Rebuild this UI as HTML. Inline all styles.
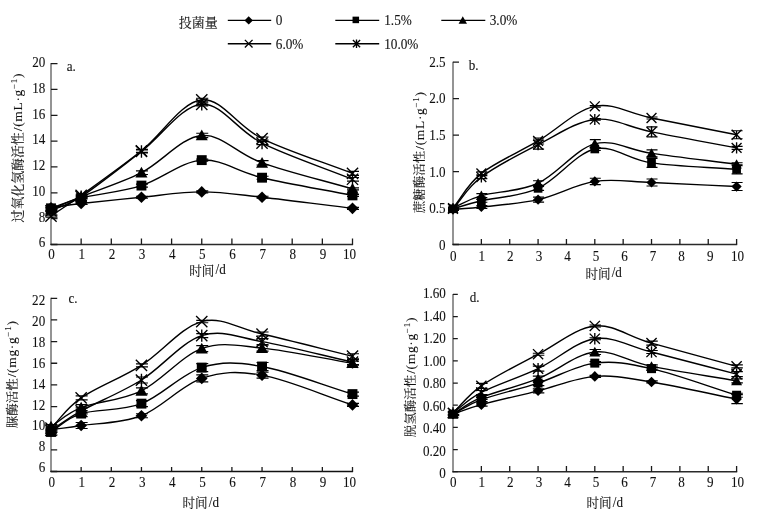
<!DOCTYPE html>
<html lang="zh"><head><meta charset="utf-8"><title>Figure</title>
<style>
html,body{margin:0;padding:0;background:#fff;}
body{width:762px;height:514px;overflow:hidden;font-family:"Liberation Serif","Noto Serif CJK SC",serif;}
svg{display:block;will-change:transform;transform:translateZ(0);}
svg text{font-family:"Liberation Serif","Noto Serif CJK SC",serif;fill:#111;stroke:#111;stroke-width:0.1px;}
</style></head><body>
<svg width="762" height="514" viewBox="0 0 762 514">
<rect width="762" height="514" fill="#fff"/>
<text x="178.80" y="27.30" font-size="13" text-anchor="start">投菌量</text>
<path d="M227.8,20.4H271.2" stroke="#000" stroke-width="1.4"/>
<path d="M248.70,16.20L252.90,20.40L248.70,24.60L244.50,20.40Z" fill="#000"/>
<text transform="translate(275.80,25.30) scale(0.96,1)" text-anchor="start" font-size="13.8">0</text>
<path d="M335.3,20.4H379.2" stroke="#000" stroke-width="1.4"/>
<rect x="352.54" y="16.64" width="6.53" height="6.53" fill="#000"/>
<text transform="translate(384.20,25.30) scale(0.96,1)" text-anchor="start" font-size="13.8">1.5%</text>
<path d="M441.3,20.4H485.3" stroke="#000" stroke-width="1.4"/>
<path d="M462.80,16.32L467.02,23.80L458.58,23.80Z" fill="#000"/>
<text transform="translate(489.70,25.30) scale(0.96,1)" text-anchor="start" font-size="13.8">3.0%</text>
<path d="M227.8,43.7H271.2" stroke="#000" stroke-width="1.4"/>
<path d="M244.87,39.87L252.53,47.53M244.87,47.53L252.53,39.87" stroke="#000" stroke-width="1.35" fill="none"/>
<text transform="translate(275.80,48.60) scale(0.96,1)" text-anchor="start" font-size="13.8">6.0%</text>
<path d="M335.3,43.7H379.2" stroke="#000" stroke-width="1.4"/>
<path d="M352.90,40.10L360.10,47.30M352.90,47.30L360.10,40.10M356.50,39.50L356.50,47.90" stroke="#000" stroke-width="1.35" fill="none"/>
<text transform="translate(384.20,48.60) scale(0.96,1)" text-anchor="start" font-size="13.8">10.0%</text>
<g id="panel-a"><path d="M51.00,63.10V245.10" stroke="#707070" stroke-width="1.5" fill="none"/>
<path d="M50.30,244.50H353.10" stroke="#2a2a2a" stroke-width="1.4" fill="none"/>
<path d="M51.00,244.50h6.5M51.00,218.66h6.5M51.00,192.81h6.5M51.00,166.97h6.5M51.00,141.13h6.5M51.00,115.29h6.5M51.00,89.44h6.5M51.00,63.60h6.5M81.15,244.50v-6M111.30,244.50v-6M141.45,244.50v-6M171.60,244.50v-6M201.75,244.50v-6M231.90,244.50v-6M262.05,244.50v-6M292.20,244.50v-6M322.35,244.50v-6M352.50,244.50v-6" stroke="#1a1a1a" stroke-width="1.3" fill="none"/>
<text transform="translate(45.30,247.30) scale(0.95,1)" text-anchor="end" font-size="13.8">6</text>
<text transform="translate(45.30,221.54) scale(0.95,1)" text-anchor="end" font-size="13.8">8</text>
<text transform="translate(45.30,195.79) scale(0.95,1)" text-anchor="end" font-size="13.8">10</text>
<text transform="translate(45.30,170.03) scale(0.95,1)" text-anchor="end" font-size="13.8">12</text>
<text transform="translate(45.30,144.27) scale(0.95,1)" text-anchor="end" font-size="13.8">14</text>
<text transform="translate(45.30,118.51) scale(0.95,1)" text-anchor="end" font-size="13.8">16</text>
<text transform="translate(45.30,92.76) scale(0.95,1)" text-anchor="end" font-size="13.8">18</text>
<text transform="translate(45.30,67.00) scale(0.95,1)" text-anchor="end" font-size="13.8">20</text>
<text transform="translate(51.60,259.40) scale(0.95,1)" text-anchor="middle" font-size="13.8">0</text>
<text transform="translate(81.75,259.40) scale(0.95,1)" text-anchor="middle" font-size="13.8">1</text>
<text transform="translate(111.90,259.40) scale(0.95,1)" text-anchor="middle" font-size="13.8">2</text>
<text transform="translate(142.05,259.40) scale(0.95,1)" text-anchor="middle" font-size="13.8">3</text>
<text transform="translate(172.20,259.40) scale(0.95,1)" text-anchor="middle" font-size="13.8">4</text>
<text transform="translate(202.35,259.40) scale(0.95,1)" text-anchor="middle" font-size="13.8">5</text>
<text transform="translate(232.50,259.40) scale(0.95,1)" text-anchor="middle" font-size="13.8">6</text>
<text transform="translate(262.65,259.40) scale(0.95,1)" text-anchor="middle" font-size="13.8">7</text>
<text transform="translate(292.80,259.40) scale(0.95,1)" text-anchor="middle" font-size="13.8">8</text>
<text transform="translate(322.95,259.40) scale(0.95,1)" text-anchor="middle" font-size="13.8">9</text>
<text transform="translate(349.60,259.40) scale(0.95,1)" text-anchor="middle" font-size="13.8">10</text>
<text transform="translate(66.80,71.30) scale(0.95,1)" text-anchor="start" font-size="13.8">a.</text>
<text x="189.20" y="274.50" font-size="12.6" text-anchor="start">时间</text>
<text transform="translate(215.50,274.20) scale(0.95,1)" text-anchor="start" font-size="13.8">/d</text>
<g transform="translate(22.0,222.5) rotate(-90)"><text x="0" y="0" font-size="12.9" text-anchor="start">过氧化氢酶活性</text><text transform="translate(91.30,-0.2) scale(1,0.92)" font-size="13.5" letter-spacing="0.65">/(mL·g<tspan dy="-5.6" font-size="9.2">−1</tspan><tspan dy="5.6">)</tspan></text></g>
<path d="M51.00,207.80C61.05,206.38 66.08,205.31 81.15,203.54C96.23,201.77 121.35,199.15 141.45,197.21C161.55,195.27 181.65,191.91 201.75,191.91C221.85,191.91 236.93,194.47 262.05,197.21C287.18,199.94 322.35,204.62 352.50,208.32" stroke="#000" stroke-width="1.4" fill="none" stroke-linejoin="round"/>
<path d="M51.00,208.32C61.05,204.87 66.08,201.77 81.15,197.98C96.23,194.19 121.35,191.89 141.45,185.58C161.55,179.27 181.65,161.44 201.75,160.12C221.85,158.81 236.93,171.82 262.05,177.70C287.18,183.58 322.35,189.50 352.50,195.40" stroke="#000" stroke-width="1.4" fill="none" stroke-linejoin="round"/>
<path d="M51.00,209.61C61.05,205.31 66.08,202.85 81.15,196.69C96.23,190.53 121.35,182.86 141.45,172.66C161.55,162.45 181.65,137.08 201.75,135.44C221.85,133.81 236.93,153.92 262.05,162.84C287.18,171.75 322.35,180.24 352.50,188.94" stroke="#000" stroke-width="1.4" fill="none" stroke-linejoin="round"/>
<path d="M51.00,216.07C66.08,205.74 66.33,206.09 81.15,195.40C96.23,184.52 121.35,166.76 141.45,150.82C161.55,134.88 181.65,101.83 201.75,99.78C221.85,97.73 236.93,126.27 262.05,138.54C287.18,150.82 322.35,161.80 352.50,173.43" stroke="#000" stroke-width="1.4" fill="none" stroke-linejoin="round"/>
<path d="M51.00,210.90C66.08,203.80 67.22,205.84 81.15,196.69C96.23,186.78 121.35,166.86 141.45,151.47C161.55,136.07 181.65,105.70 201.75,104.30C221.85,102.90 236.93,130.58 262.05,143.07C287.18,155.56 322.35,167.19 352.50,179.25" stroke="#000" stroke-width="1.4" fill="none" stroke-linejoin="round"/>
<path d="M51.00,206.80V208.80M45.50,206.80h12.0M45.50,208.80h12.0M81.15,202.54V204.54M75.65,202.54h12.0M75.65,204.54h12.0M141.45,196.21V198.21M135.95,196.21h12.0M135.95,198.21h12.0M201.75,190.91V192.91M196.25,190.91h12.0M196.25,192.91h12.0M262.05,196.21V198.21M256.55,196.21h12.0M256.55,198.21h12.0M352.50,207.32V209.32M347.00,207.32h12.0M347.00,209.32h12.0M51.00,207.32V209.32M45.50,207.32h12.0M45.50,209.32h12.0M81.15,196.98V198.98M75.65,196.98h12.0M75.65,198.98h12.0M141.45,184.08V187.08M135.95,184.08h12.0M135.95,187.08h12.0M201.75,159.12V161.12M196.25,159.12h12.0M196.25,161.12h12.0M262.05,176.20V179.20M256.55,176.20h12.0M256.55,179.20h12.0M352.50,194.40V196.40M347.00,194.40h12.0M347.00,196.40h12.0M51.00,208.61V210.61M45.50,208.61h12.0M45.50,210.61h12.0M81.15,195.69V197.69M75.65,195.69h12.0M75.65,197.69h12.0M141.45,170.86V174.46M135.95,170.86h12.0M135.95,174.46h12.0M201.75,133.24V137.64M196.25,133.24h12.0M196.25,137.64h12.0M262.05,160.64V165.04M256.55,160.64h12.0M256.55,165.04h12.0M352.50,187.94V189.94M347.00,187.94h12.0M347.00,189.94h12.0M51.00,215.07V217.07M45.50,215.07h12.0M45.50,217.07h12.0M81.15,194.20V196.60M75.65,194.20h12.0M75.65,196.60h12.0M141.45,149.32V152.32M135.95,149.32h12.0M135.95,152.32h12.0M201.75,98.28V101.28M196.25,98.28h12.0M196.25,101.28h12.0M262.05,137.04V140.04M256.55,137.04h12.0M256.55,140.04h12.0M352.50,171.43V175.43M347.00,171.43h12.0M347.00,175.43h12.0M51.00,209.90V211.90M45.50,209.90h12.0M45.50,211.90h12.0M81.15,195.49V197.89M75.65,195.49h12.0M75.65,197.89h12.0M141.45,149.97V152.97M135.95,149.97h12.0M135.95,152.97h12.0M201.75,102.80V105.80M196.25,102.80h12.0M196.25,105.80h12.0M262.05,141.57V144.57M256.55,141.57h12.0M256.55,144.57h12.0M352.50,177.45V181.05M347.00,177.45h12.0M347.00,181.05h12.0" stroke="#000" stroke-width="1.15" fill="none"/>
<path d="M51.00,201.98L56.82,207.80L51.00,213.62L45.18,207.80Z" fill="#000"/>
<path d="M81.15,197.72L86.97,203.54L81.15,209.36L75.33,203.54Z" fill="#000"/>
<path d="M141.45,191.39L147.27,197.21L141.45,203.03L135.63,197.21Z" fill="#000"/>
<path d="M201.75,186.09L207.57,191.91L201.75,197.73L195.93,191.91Z" fill="#000"/>
<path d="M262.05,191.39L267.87,197.21L262.05,203.03L256.23,197.21Z" fill="#000"/>
<path d="M352.50,202.50L358.32,208.32L352.50,214.14L346.68,208.32Z" fill="#000"/>
<rect x="46.05" y="203.37" width="9.89" height="9.89" fill="#000"/>
<rect x="76.20" y="193.04" width="9.89" height="9.89" fill="#000"/>
<rect x="136.50" y="180.63" width="9.89" height="9.89" fill="#000"/>
<rect x="196.80" y="155.18" width="9.89" height="9.89" fill="#000"/>
<rect x="257.10" y="172.75" width="9.89" height="9.89" fill="#000"/>
<rect x="347.55" y="190.45" width="9.89" height="9.89" fill="#000"/>
<path d="M51.00,203.79L57.01,214.46L44.99,214.46Z" fill="#000"/>
<path d="M81.15,190.87L87.16,201.54L75.14,201.54Z" fill="#000"/>
<path d="M141.45,166.84L147.46,177.51L135.44,177.51Z" fill="#000"/>
<path d="M201.75,129.62L207.76,140.29L195.74,140.29Z" fill="#000"/>
<path d="M262.05,157.02L268.06,167.69L256.04,167.69Z" fill="#000"/>
<path d="M352.50,183.12L358.51,193.79L346.49,193.79Z" fill="#000"/>
<path d="M45.37,210.45L56.63,221.70M45.37,221.70L56.63,210.45" stroke="#000" stroke-width="1.35" fill="none"/>
<path d="M75.52,189.77L86.78,201.02M75.52,201.02L86.78,189.77" stroke="#000" stroke-width="1.35" fill="none"/>
<path d="M135.82,145.19L147.08,156.45M135.82,156.45L147.08,145.19" stroke="#000" stroke-width="1.35" fill="none"/>
<path d="M196.12,94.15L207.38,105.41M196.12,105.41L207.38,94.15" stroke="#000" stroke-width="1.35" fill="none"/>
<path d="M256.42,132.92L267.68,144.17M256.42,144.17L267.68,132.92" stroke="#000" stroke-width="1.35" fill="none"/>
<path d="M346.87,167.81L358.13,179.06M346.87,179.06L358.13,167.81" stroke="#000" stroke-width="1.35" fill="none"/>
<path d="M45.37,205.28L56.63,216.53M45.37,216.53L56.63,205.28M51.00,204.68L51.00,217.13" stroke="#000" stroke-width="1.35" fill="none"/>
<path d="M75.52,191.06L86.78,202.32M75.52,202.32L86.78,191.06M81.15,190.46L81.15,202.92" stroke="#000" stroke-width="1.35" fill="none"/>
<path d="M135.82,145.84L147.08,157.09M135.82,157.09L147.08,145.84M141.45,145.24L141.45,157.69" stroke="#000" stroke-width="1.35" fill="none"/>
<path d="M196.12,98.68L207.38,109.93M196.12,109.93L207.38,98.68M201.75,98.08L201.75,110.53" stroke="#000" stroke-width="1.35" fill="none"/>
<path d="M256.42,137.44L267.68,148.69M256.42,148.69L267.68,137.44M262.05,136.84L262.05,149.29" stroke="#000" stroke-width="1.35" fill="none"/>
<path d="M346.87,173.62L358.13,184.87M346.87,184.87L358.13,173.62M352.50,173.02L352.50,185.47" stroke="#000" stroke-width="1.35" fill="none"/></g>
<g id="panel-b"><path d="M453.00,61.70V245.10" stroke="#707070" stroke-width="1.5" fill="none"/>
<path d="M452.30,244.50H737.20" stroke="#2a2a2a" stroke-width="1.4" fill="none"/>
<path d="M453.00,244.50h6M453.00,208.04h6M453.00,171.58h6M453.00,135.12h6M453.00,98.66h6M453.00,62.20h6M481.36,244.50v-5.6M509.72,244.50v-5.6M538.08,244.50v-5.6M566.44,244.50v-5.6M594.80,244.50v-5.6M623.16,244.50v-5.6M651.52,244.50v-5.6M679.88,244.50v-5.6M708.24,244.50v-5.6M736.60,244.50v-5.6" stroke="#1a1a1a" stroke-width="1.3" fill="none"/>
<text transform="translate(445.60,249.60) scale(0.95,1)" text-anchor="end" font-size="13.8">0</text>
<text transform="translate(445.60,213.06) scale(0.95,1)" text-anchor="end" font-size="13.8">0.5</text>
<text transform="translate(445.60,176.52) scale(0.95,1)" text-anchor="end" font-size="13.8">1.0</text>
<text transform="translate(445.60,139.98) scale(0.95,1)" text-anchor="end" font-size="13.8">1.5</text>
<text transform="translate(445.60,103.44) scale(0.95,1)" text-anchor="end" font-size="13.8">2.0</text>
<text transform="translate(445.60,66.90) scale(0.95,1)" text-anchor="end" font-size="13.8">2.5</text>
<text transform="translate(453.30,260.60) scale(0.95,1)" text-anchor="middle" font-size="13.8">0</text>
<text transform="translate(481.84,260.60) scale(0.95,1)" text-anchor="middle" font-size="13.8">1</text>
<text transform="translate(510.38,260.60) scale(0.95,1)" text-anchor="middle" font-size="13.8">2</text>
<text transform="translate(538.92,260.60) scale(0.95,1)" text-anchor="middle" font-size="13.8">3</text>
<text transform="translate(567.46,260.60) scale(0.95,1)" text-anchor="middle" font-size="13.8">4</text>
<text transform="translate(596.00,260.60) scale(0.95,1)" text-anchor="middle" font-size="13.8">5</text>
<text transform="translate(624.54,260.60) scale(0.95,1)" text-anchor="middle" font-size="13.8">6</text>
<text transform="translate(653.08,260.60) scale(0.95,1)" text-anchor="middle" font-size="13.8">7</text>
<text transform="translate(681.62,260.60) scale(0.95,1)" text-anchor="middle" font-size="13.8">8</text>
<text transform="translate(710.16,260.60) scale(0.95,1)" text-anchor="middle" font-size="13.8">9</text>
<text transform="translate(737.50,260.60) scale(0.95,1)" text-anchor="middle" font-size="13.8">10</text>
<text transform="translate(468.80,70.40) scale(0.95,1)" text-anchor="start" font-size="13.8">b.</text>
<text x="585.40" y="277.70" font-size="12.6" text-anchor="start">时间</text>
<text transform="translate(611.70,277.40) scale(0.95,1)" text-anchor="start" font-size="13.8">/d</text>
<g transform="translate(423.9,213.2) rotate(-90)"><text x="0" y="0" font-size="12.5" text-anchor="start">蔗糖酶活性</text><text transform="translate(63.50,-0.2) scale(1,0.92)" font-size="13.5" letter-spacing="0.65">/(mL·g<tspan dy="-5.6" font-size="9.2">−1</tspan><tspan dy="5.6">)</tspan></text></g>
<path d="M453.00,209.50C467.18,208.22 467.22,208.58 481.36,206.95C495.54,205.31 519.17,203.91 538.08,199.65C556.99,195.40 575.89,184.28 594.80,181.42C613.71,178.57 627.89,181.67 651.52,182.52C675.15,183.37 708.24,185.19 736.60,186.53" stroke="#000" stroke-width="1.4" fill="none" stroke-linejoin="round"/>
<path d="M453.00,208.77C462.45,206.10 467.18,204.15 481.36,200.75C495.54,197.35 519.17,196.98 538.08,188.35C556.99,179.72 575.89,153.23 594.80,148.97C613.71,144.72 627.89,159.43 651.52,162.83C675.15,166.23 708.24,167.20 736.60,169.39" stroke="#000" stroke-width="1.4" fill="none" stroke-linejoin="round"/>
<path d="M453.00,208.04C462.45,203.91 467.18,199.78 481.36,195.64C495.54,191.51 519.17,191.88 538.08,183.25C556.99,174.62 575.89,148.85 594.80,143.87C613.71,138.89 627.89,149.95 651.52,153.35C675.15,156.75 708.24,160.64 736.60,164.29" stroke="#000" stroke-width="1.4" fill="none" stroke-linejoin="round"/>
<path d="M453.00,208.04C462.45,196.49 467.18,184.58 481.36,173.40C495.54,162.22 519.17,152.13 538.08,140.95C556.99,129.77 575.89,110.14 594.80,106.32C613.71,102.49 627.89,113.24 651.52,117.98C675.15,122.72 708.24,129.16 736.60,134.76" stroke="#000" stroke-width="1.4" fill="none" stroke-linejoin="round"/>
<path d="M453.00,208.77C462.45,198.20 467.18,187.74 481.36,177.05C495.54,166.35 519.17,154.20 538.08,144.60C556.99,135.00 575.89,121.57 594.80,119.44C613.71,117.32 627.89,127.10 651.52,131.84C675.15,136.58 708.24,142.53 736.60,147.88" stroke="#000" stroke-width="1.4" fill="none" stroke-linejoin="round"/>
<path d="M453.00,208.50V210.50M448.00,208.50h11.0M448.00,210.50h11.0M481.36,205.45V208.45M476.36,205.45h11.0M476.36,208.45h11.0M538.08,197.15V202.15M533.08,197.15h11.0M533.08,202.15h11.0M594.80,178.22V184.62M589.80,178.22h11.0M589.80,184.62h11.0M651.52,179.02V186.02M646.52,179.02h11.0M646.52,186.02h11.0M736.60,182.53V190.53M731.60,182.53h11.0M731.60,190.53h11.0M453.00,207.77V209.77M448.00,207.77h11.0M448.00,209.77h11.0M481.36,199.25V202.25M476.36,199.25h11.0M476.36,202.25h11.0M538.08,186.35V190.35M533.08,186.35h11.0M533.08,190.35h11.0M594.80,147.47V150.47M589.80,147.47h11.0M589.80,150.47h11.0M651.52,158.33V167.33M646.52,158.33h11.0M646.52,167.33h11.0M736.60,164.89V173.89M731.60,164.89h11.0M731.60,173.89h11.0M453.00,207.04V209.04M448.00,207.04h11.0M448.00,209.04h11.0M481.36,193.64V197.64M476.36,193.64h11.0M476.36,197.64h11.0M538.08,180.75V185.75M533.08,180.75h11.0M533.08,185.75h11.0M594.80,139.67V148.07M589.80,139.67h11.0M589.80,148.07h11.0M651.52,149.85V156.85M646.52,149.85h11.0M646.52,156.85h11.0M736.60,162.79V165.79M731.60,162.79h11.0M731.60,165.79h11.0M453.00,207.04V209.04M448.00,207.04h11.0M448.00,209.04h11.0M481.36,171.90V174.90M476.36,171.90h11.0M476.36,174.90h11.0M538.08,137.95V143.95M533.08,137.95h11.0M533.08,143.95h11.0M594.80,105.52V107.12M589.80,105.52h11.0M589.80,107.12h11.0M651.52,116.98V118.98M646.52,116.98h11.0M646.52,118.98h11.0M736.60,130.76V138.76M731.60,130.76h11.0M731.60,138.76h11.0M453.00,207.77V209.77M448.00,207.77h11.0M448.00,209.77h11.0M481.36,175.55V178.55M476.36,175.55h11.0M476.36,178.55h11.0M538.08,140.10V149.10M533.08,140.10h11.0M533.08,149.10h11.0M594.80,118.64V120.24M589.80,118.64h11.0M589.80,120.24h11.0M651.52,126.84V136.84M646.52,126.84h11.0M646.52,136.84h11.0M736.60,146.38V149.38M731.60,146.38h11.0M731.60,149.38h11.0" stroke="#000" stroke-width="1.15" fill="none"/>
<path d="M453.00,204.40L458.10,209.50L453.00,214.60L447.90,209.50Z" fill="#000"/>
<path d="M481.36,201.85L486.46,206.95L481.36,212.05L476.26,206.95Z" fill="#000"/>
<path d="M538.08,194.55L543.18,199.65L538.08,204.75L532.98,199.65Z" fill="#000"/>
<path d="M594.80,176.32L599.90,181.42L594.80,186.52L589.70,181.42Z" fill="#000"/>
<path d="M651.52,177.42L656.62,182.52L651.52,187.62L646.42,182.52Z" fill="#000"/>
<path d="M736.60,181.43L741.70,186.53L736.60,191.63L731.50,186.53Z" fill="#000"/>
<rect x="448.67" y="204.43" width="8.67" height="8.67" fill="#000"/>
<rect x="477.03" y="196.41" width="8.67" height="8.67" fill="#000"/>
<rect x="533.75" y="184.02" width="8.67" height="8.67" fill="#000"/>
<rect x="590.46" y="144.64" width="8.67" height="8.67" fill="#000"/>
<rect x="647.18" y="158.49" width="8.67" height="8.67" fill="#000"/>
<rect x="732.26" y="165.06" width="8.67" height="8.67" fill="#000"/>
<path d="M453.00,202.94L458.27,212.29L447.73,212.29Z" fill="#000"/>
<path d="M481.36,190.54L486.63,199.89L476.09,199.89Z" fill="#000"/>
<path d="M538.08,178.15L543.35,187.50L532.81,187.50Z" fill="#000"/>
<path d="M594.80,138.77L600.07,148.12L589.53,148.12Z" fill="#000"/>
<path d="M651.52,148.25L656.79,157.60L646.25,157.60Z" fill="#000"/>
<path d="M736.60,159.19L741.87,168.54L731.33,168.54Z" fill="#000"/>
<path d="M448.07,203.11L457.93,212.97M448.07,212.97L457.93,203.11" stroke="#000" stroke-width="1.35" fill="none"/>
<path d="M476.43,168.47L486.29,178.33M476.43,178.33L486.29,168.47" stroke="#000" stroke-width="1.35" fill="none"/>
<path d="M533.15,136.02L543.01,145.88M533.15,145.88L543.01,136.02" stroke="#000" stroke-width="1.35" fill="none"/>
<path d="M589.87,101.39L599.73,111.25M589.87,111.25L599.73,101.39" stroke="#000" stroke-width="1.35" fill="none"/>
<path d="M646.59,113.05L656.45,122.91M646.59,122.91L656.45,113.05" stroke="#000" stroke-width="1.35" fill="none"/>
<path d="M731.67,129.83L741.53,139.69M731.67,139.69L741.53,129.83" stroke="#000" stroke-width="1.35" fill="none"/>
<path d="M448.07,203.84L457.93,213.70M448.07,213.70L457.93,203.84M453.00,203.24L453.00,214.30" stroke="#000" stroke-width="1.35" fill="none"/>
<path d="M476.43,172.12L486.29,181.98M476.43,181.98L486.29,172.12M481.36,171.52L481.36,182.58" stroke="#000" stroke-width="1.35" fill="none"/>
<path d="M533.15,139.67L543.01,149.53M533.15,149.53L543.01,139.67M538.08,139.07L538.08,150.13" stroke="#000" stroke-width="1.35" fill="none"/>
<path d="M589.87,114.51L599.73,124.37M589.87,124.37L599.73,114.51M594.80,113.91L594.80,124.97" stroke="#000" stroke-width="1.35" fill="none"/>
<path d="M646.59,126.91L656.45,136.77M646.59,136.77L656.45,126.91M651.52,126.31L651.52,137.37" stroke="#000" stroke-width="1.35" fill="none"/>
<path d="M731.67,142.95L741.53,152.81M731.67,152.81L741.53,142.95M736.60,142.35L736.60,153.41" stroke="#000" stroke-width="1.35" fill="none"/></g>
<g id="panel-c"><path d="M51.00,297.80V472.10" stroke="#707070" stroke-width="1.5" fill="none"/>
<path d="M50.30,471.50H353.10" stroke="#111" stroke-width="1.4" fill="none"/>
<path d="M51.00,471.50h6.2M51.00,449.85h6.2M51.00,428.20h6.2M51.00,406.55h6.2M51.00,384.90h6.2M51.00,363.25h6.2M51.00,341.60h6.2M51.00,319.95h6.2M51.00,298.30h6.2M81.15,471.50v-4.4M111.30,471.50v-4.4M141.45,471.50v-4.4M171.60,471.50v-4.4M201.75,471.50v-4.4M231.90,471.50v-4.4M262.05,471.50v-4.4M292.20,471.50v-4.4M322.35,471.50v-4.4M352.50,471.50v-4.4" stroke="#1a1a1a" stroke-width="1.3" fill="none"/>
<text transform="translate(45.20,472.40) scale(0.95,1)" text-anchor="end" font-size="13.8">6</text>
<text transform="translate(45.20,451.44) scale(0.95,1)" text-anchor="end" font-size="13.8">8</text>
<text transform="translate(45.20,430.47) scale(0.95,1)" text-anchor="end" font-size="13.8">10</text>
<text transform="translate(45.20,409.51) scale(0.95,1)" text-anchor="end" font-size="13.8">12</text>
<text transform="translate(45.20,388.55) scale(0.95,1)" text-anchor="end" font-size="13.8">14</text>
<text transform="translate(45.20,367.59) scale(0.95,1)" text-anchor="end" font-size="13.8">16</text>
<text transform="translate(45.20,346.62) scale(0.95,1)" text-anchor="end" font-size="13.8">18</text>
<text transform="translate(45.20,325.66) scale(0.95,1)" text-anchor="end" font-size="13.8">20</text>
<text transform="translate(45.20,304.70) scale(0.95,1)" text-anchor="end" font-size="13.8">22</text>
<text transform="translate(51.70,486.70) scale(0.95,1)" text-anchor="middle" font-size="13.8">0</text>
<text transform="translate(81.85,486.70) scale(0.95,1)" text-anchor="middle" font-size="13.8">1</text>
<text transform="translate(112.00,486.70) scale(0.95,1)" text-anchor="middle" font-size="13.8">2</text>
<text transform="translate(142.15,486.70) scale(0.95,1)" text-anchor="middle" font-size="13.8">3</text>
<text transform="translate(172.30,486.70) scale(0.95,1)" text-anchor="middle" font-size="13.8">4</text>
<text transform="translate(202.45,486.70) scale(0.95,1)" text-anchor="middle" font-size="13.8">5</text>
<text transform="translate(232.60,486.70) scale(0.95,1)" text-anchor="middle" font-size="13.8">6</text>
<text transform="translate(262.75,486.70) scale(0.95,1)" text-anchor="middle" font-size="13.8">7</text>
<text transform="translate(292.90,486.70) scale(0.95,1)" text-anchor="middle" font-size="13.8">8</text>
<text transform="translate(323.05,486.70) scale(0.95,1)" text-anchor="middle" font-size="13.8">9</text>
<text transform="translate(349.60,486.70) scale(0.95,1)" text-anchor="middle" font-size="13.8">10</text>
<text transform="translate(68.40,302.90) scale(0.95,1)" text-anchor="start" font-size="13.8">c.</text>
<text x="182.50" y="507.30" font-size="12.6" text-anchor="start">时间</text>
<text transform="translate(208.80,507.00) scale(0.95,1)" text-anchor="start" font-size="13.8">/d</text>
<g transform="translate(16.5,428.3) rotate(-90)"><text x="0" y="0" font-size="12.5" text-anchor="start">脲酶活性</text><text transform="translate(51.00,-0.2) scale(1,0.92)" font-size="13.5" letter-spacing="0.65">/(mg·g<tspan dy="-5.6" font-size="9.2">−1</tspan><tspan dy="5.6">)</tspan></text></g>
<path d="M51.00,429.82C66.08,427.66 66.10,427.84 81.15,425.49C96.23,423.15 121.35,423.60 141.45,415.75C161.55,407.90 181.65,385.17 201.75,378.41C221.85,371.64 236.93,370.74 262.05,375.16C287.18,379.58 322.35,395.00 352.50,404.93" stroke="#000" stroke-width="1.4" fill="none" stroke-linejoin="round"/>
<path d="M51.00,431.99C61.05,425.85 66.08,418.31 81.15,413.59C96.23,408.86 121.35,411.29 141.45,403.63C161.55,395.96 181.65,373.77 201.75,367.58C221.85,361.39 236.93,362.08 262.05,366.50C287.18,370.92 322.35,384.90 352.50,394.10" stroke="#000" stroke-width="1.4" fill="none" stroke-linejoin="round"/>
<path d="M51.00,426.58C61.05,420.26 66.08,413.59 81.15,407.63C96.23,401.68 121.35,400.69 141.45,390.85C161.55,381.02 181.65,355.76 201.75,348.64C221.85,341.51 236.93,345.66 262.05,348.10C287.18,350.53 322.35,358.20 352.50,363.25" stroke="#000" stroke-width="1.4" fill="none" stroke-linejoin="round"/>
<path d="M51.00,428.20C61.05,418.10 66.08,408.35 81.15,397.89C96.23,387.43 121.35,378.13 141.45,365.42C161.55,352.70 181.65,326.81 201.75,321.57C221.85,316.34 236.93,328.25 262.05,334.02C287.18,339.80 322.35,348.82 352.50,356.21" stroke="#000" stroke-width="1.4" fill="none" stroke-linejoin="round"/>
<path d="M51.00,430.37C61.05,423.87 66.08,419.27 81.15,410.88C96.23,402.49 121.35,392.57 141.45,380.03C161.55,367.49 181.65,342.05 201.75,335.65C221.85,329.24 236.93,337.18 262.05,341.60C287.18,346.02 322.35,355.31 352.50,362.17" stroke="#000" stroke-width="1.4" fill="none" stroke-linejoin="round"/>
<path d="M51.00,427.82V431.82M45.50,427.82h12.0M45.50,431.82h12.0M81.15,422.49V428.49M75.65,422.49h12.0M75.65,428.49h12.0M141.45,413.75V417.75M135.95,413.75h12.0M135.95,417.75h12.0M201.75,374.91V381.91M196.25,374.91h12.0M196.25,381.91h12.0M262.05,372.16V378.16M256.55,372.16h12.0M256.55,378.16h12.0M352.50,403.43V406.43M347.00,403.43h12.0M347.00,406.43h12.0M51.00,428.99V434.99M45.50,428.99h12.0M45.50,434.99h12.0M81.15,410.59V416.59M75.65,410.59h12.0M75.65,416.59h12.0M141.45,400.63V406.63M135.95,400.63h12.0M135.95,406.63h12.0M201.75,363.58V371.58M196.25,363.58h12.0M196.25,371.58h12.0M262.05,362.50V370.50M256.55,362.50h12.0M256.55,370.50h12.0M352.50,392.10V396.10M347.00,392.10h12.0M347.00,396.10h12.0M51.00,424.58V428.58M45.50,424.58h12.0M45.50,428.58h12.0M81.15,404.63V410.63M75.65,404.63h12.0M75.65,410.63h12.0M141.45,387.85V393.85M135.95,387.85h12.0M135.95,393.85h12.0M201.75,345.64V351.64M196.25,345.64h12.0M196.25,351.64h12.0M262.05,345.10V351.10M256.55,345.10h12.0M256.55,351.10h12.0M352.50,361.25V365.25M347.00,361.25h12.0M347.00,365.25h12.0M51.00,426.20V430.20M45.50,426.20h12.0M45.50,430.20h12.0M81.15,395.89V399.89M75.65,395.89h12.0M75.65,399.89h12.0M141.45,363.92V366.92M135.95,363.92h12.0M135.95,366.92h12.0M201.75,320.37V322.77M196.25,320.37h12.0M196.25,322.77h12.0M262.05,332.02V336.02M256.55,332.02h12.0M256.55,336.02h12.0M352.50,353.71V358.71M347.00,353.71h12.0M347.00,358.71h12.0M51.00,428.37V432.37M45.50,428.37h12.0M45.50,432.37h12.0M81.15,407.88V413.88M75.65,407.88h12.0M75.65,413.88h12.0M141.45,377.03V383.03M135.95,377.03h12.0M135.95,383.03h12.0M201.75,333.65V337.65M196.25,333.65h12.0M196.25,337.65h12.0M262.05,338.60V344.60M256.55,338.60h12.0M256.55,344.60h12.0M352.50,359.67V364.67M347.00,359.67h12.0M347.00,364.67h12.0" stroke="#000" stroke-width="1.15" fill="none"/>
<path d="M51.00,424.00L56.82,429.82L51.00,435.64L45.18,429.82Z" fill="#000"/>
<path d="M81.15,419.67L86.97,425.49L81.15,431.31L75.33,425.49Z" fill="#000"/>
<path d="M141.45,409.93L147.27,415.75L141.45,421.57L135.63,415.75Z" fill="#000"/>
<path d="M201.75,372.59L207.57,378.41L201.75,384.23L195.93,378.41Z" fill="#000"/>
<path d="M262.05,369.34L267.87,375.16L262.05,380.98L256.23,375.16Z" fill="#000"/>
<path d="M352.50,399.11L358.32,404.93L352.50,410.75L346.68,404.93Z" fill="#000"/>
<rect x="46.05" y="427.04" width="9.89" height="9.89" fill="#000"/>
<rect x="76.20" y="408.64" width="9.89" height="9.89" fill="#000"/>
<rect x="136.50" y="398.68" width="9.89" height="9.89" fill="#000"/>
<rect x="196.80" y="362.63" width="9.89" height="9.89" fill="#000"/>
<rect x="257.10" y="361.55" width="9.89" height="9.89" fill="#000"/>
<rect x="347.55" y="389.15" width="9.89" height="9.89" fill="#000"/>
<path d="M51.00,420.76L57.01,431.43L44.99,431.43Z" fill="#000"/>
<path d="M81.15,401.81L87.16,412.48L75.14,412.48Z" fill="#000"/>
<path d="M141.45,385.03L147.46,395.70L135.44,395.70Z" fill="#000"/>
<path d="M201.75,342.82L207.76,353.49L195.74,353.49Z" fill="#000"/>
<path d="M262.05,342.28L268.06,352.95L256.04,352.95Z" fill="#000"/>
<path d="M352.50,357.43L358.51,368.10L346.49,368.10Z" fill="#000"/>
<path d="M45.37,422.57L56.63,433.83M45.37,433.83L56.63,422.57" stroke="#000" stroke-width="1.35" fill="none"/>
<path d="M75.52,392.26L86.78,403.52M75.52,403.52L86.78,392.26" stroke="#000" stroke-width="1.35" fill="none"/>
<path d="M135.82,359.79L147.08,371.04M135.82,371.04L147.08,359.79" stroke="#000" stroke-width="1.35" fill="none"/>
<path d="M196.12,315.95L207.38,327.20M196.12,327.20L207.38,315.95" stroke="#000" stroke-width="1.35" fill="none"/>
<path d="M256.42,328.40L267.68,339.65M256.42,339.65L267.68,328.40" stroke="#000" stroke-width="1.35" fill="none"/>
<path d="M346.87,350.59L358.13,361.84M346.87,361.84L358.13,350.59" stroke="#000" stroke-width="1.35" fill="none"/>
<path d="M45.37,424.74L56.63,435.99M45.37,435.99L56.63,424.74M51.00,424.14L51.00,436.59" stroke="#000" stroke-width="1.35" fill="none"/>
<path d="M75.52,405.25L86.78,416.51M75.52,416.51L86.78,405.25M81.15,404.65L81.15,417.11" stroke="#000" stroke-width="1.35" fill="none"/>
<path d="M135.82,374.40L147.08,385.65M135.82,385.65L147.08,374.40M141.45,373.80L141.45,386.25" stroke="#000" stroke-width="1.35" fill="none"/>
<path d="M196.12,330.02L207.38,341.27M196.12,341.27L207.38,330.02M201.75,329.42L201.75,341.87" stroke="#000" stroke-width="1.35" fill="none"/>
<path d="M256.42,335.97L267.68,347.23M256.42,347.23L267.68,335.97M262.05,335.37L262.05,347.83" stroke="#000" stroke-width="1.35" fill="none"/>
<path d="M346.87,356.54L358.13,367.79M346.87,367.79L358.13,356.54M352.50,355.94L352.50,368.39" stroke="#000" stroke-width="1.35" fill="none"/></g>
<g id="panel-d"><path d="M453.00,293.90V472.30" stroke="#707070" stroke-width="1.5" fill="none"/>
<path d="M452.30,471.70H737.20" stroke="#2a2a2a" stroke-width="1.4" fill="none"/>
<path d="M453.00,471.70h4.8M453.00,449.54h4.8M453.00,427.38h4.8M453.00,405.21h4.8M453.00,383.05h4.8M453.00,360.89h4.8M453.00,338.72h4.8M453.00,316.56h4.8M453.00,294.40h4.8M481.36,471.70v-5.6M509.72,471.70v-5.6M538.08,471.70v-5.6M566.44,471.70v-5.6M594.80,471.70v-5.6M623.16,471.70v-5.6M651.52,471.70v-5.6M679.88,471.70v-5.6M708.24,471.70v-5.6M736.60,471.70v-5.6" stroke="#1a1a1a" stroke-width="1.3" fill="none"/>
<text transform="translate(445.80,478.40) scale(0.95,1)" text-anchor="end" font-size="13.8">0</text>
<text transform="translate(445.80,455.90) scale(0.95,1)" text-anchor="end" font-size="13.8">0.20</text>
<text transform="translate(445.80,433.40) scale(0.95,1)" text-anchor="end" font-size="13.8">0.40</text>
<text transform="translate(445.80,410.90) scale(0.95,1)" text-anchor="end" font-size="13.8">0.60</text>
<text transform="translate(445.80,388.40) scale(0.95,1)" text-anchor="end" font-size="13.8">0.80</text>
<text transform="translate(445.80,365.90) scale(0.95,1)" text-anchor="end" font-size="13.8">1.00</text>
<text transform="translate(445.80,343.40) scale(0.95,1)" text-anchor="end" font-size="13.8">1.20</text>
<text transform="translate(445.80,320.90) scale(0.95,1)" text-anchor="end" font-size="13.8">1.40</text>
<text transform="translate(445.80,298.40) scale(0.95,1)" text-anchor="end" font-size="13.8">1.60</text>
<text transform="translate(453.30,487.00) scale(0.95,1)" text-anchor="middle" font-size="13.8">0</text>
<text transform="translate(481.84,487.00) scale(0.95,1)" text-anchor="middle" font-size="13.8">1</text>
<text transform="translate(510.38,487.00) scale(0.95,1)" text-anchor="middle" font-size="13.8">2</text>
<text transform="translate(538.92,487.00) scale(0.95,1)" text-anchor="middle" font-size="13.8">3</text>
<text transform="translate(567.46,487.00) scale(0.95,1)" text-anchor="middle" font-size="13.8">4</text>
<text transform="translate(596.00,487.00) scale(0.95,1)" text-anchor="middle" font-size="13.8">5</text>
<text transform="translate(624.54,487.00) scale(0.95,1)" text-anchor="middle" font-size="13.8">6</text>
<text transform="translate(653.08,487.00) scale(0.95,1)" text-anchor="middle" font-size="13.8">7</text>
<text transform="translate(681.62,487.00) scale(0.95,1)" text-anchor="middle" font-size="13.8">8</text>
<text transform="translate(710.16,487.00) scale(0.95,1)" text-anchor="middle" font-size="13.8">9</text>
<text transform="translate(737.50,487.00) scale(0.95,1)" text-anchor="middle" font-size="13.8">10</text>
<text transform="translate(469.80,301.70) scale(0.95,1)" text-anchor="start" font-size="13.8">d.</text>
<text x="586.50" y="507.30" font-size="12.6" text-anchor="start">时间</text>
<text transform="translate(612.80,507.00) scale(0.95,1)" text-anchor="start" font-size="13.8">/d</text>
<g transform="translate(415.0,437.3) rotate(-90)"><text x="0" y="0" font-size="12.5" text-anchor="start">脱氢酶活性</text><text transform="translate(63.50,-0.2) scale(1,0.92)" font-size="13.5" letter-spacing="0.65">/(mg·g<tspan dy="-5.6" font-size="9.2">−1</tspan><tspan dy="5.6">)</tspan></text></g>
<path d="M453.00,414.08C462.45,410.94 467.18,408.54 481.36,404.66C495.54,400.78 519.17,395.52 538.08,390.81C556.99,386.10 575.89,377.88 594.80,376.40C613.71,374.92 627.89,378.16 651.52,381.94C675.15,385.73 708.24,393.39 736.60,399.12" stroke="#000" stroke-width="1.4" fill="none" stroke-linejoin="round"/>
<path d="M453.00,414.08C462.45,409.28 467.18,404.84 481.36,399.67C495.54,394.50 519.17,389.14 538.08,383.05C556.99,376.96 575.89,365.50 594.80,363.10C613.71,360.70 627.89,363.29 651.52,368.64C675.15,374.00 708.24,386.37 736.60,395.24" stroke="#000" stroke-width="1.4" fill="none" stroke-linejoin="round"/>
<path d="M453.00,414.08C462.45,408.54 467.18,403.37 481.36,397.46C495.54,391.55 519.17,386.19 538.08,378.62C556.99,371.05 575.89,354.05 594.80,352.02C613.71,349.99 627.89,361.63 651.52,366.43C675.15,371.23 708.24,376.03 736.60,380.83" stroke="#000" stroke-width="1.4" fill="none" stroke-linejoin="round"/>
<path d="M453.00,412.97C462.45,403.92 467.18,395.61 481.36,385.82C495.54,376.03 519.17,364.21 538.08,354.24C556.99,344.27 575.89,327.83 594.80,325.98C613.71,324.13 627.89,336.42 651.52,343.16C675.15,349.90 708.24,358.67 736.60,366.43" stroke="#000" stroke-width="1.4" fill="none" stroke-linejoin="round"/>
<path d="M453.00,412.97C462.45,406.14 467.18,399.86 481.36,392.47C495.54,385.08 519.17,377.60 538.08,368.64C556.99,359.69 575.89,341.50 594.80,338.73C613.71,335.95 627.89,346.11 651.52,352.02C675.15,357.93 708.24,366.80 736.60,374.19" stroke="#000" stroke-width="1.4" fill="none" stroke-linejoin="round"/>
<path d="M453.00,412.58V415.58M447.75,412.58h11.5M447.75,415.58h11.5M481.36,403.16V406.16M476.11,403.16h11.5M476.11,406.16h11.5M538.08,388.81V392.81M532.83,388.81h11.5M532.83,392.81h11.5M594.80,375.40V377.40M589.55,375.40h11.5M589.55,377.40h11.5M651.52,380.94V382.94M646.27,380.94h11.5M646.27,382.94h11.5M736.60,394.62V403.62M731.35,394.62h11.5M731.35,403.62h11.5M453.00,412.58V415.58M447.75,412.58h11.5M447.75,415.58h11.5M481.36,397.67V401.67M476.11,397.67h11.5M476.11,401.67h11.5M538.08,380.55V385.55M532.83,380.55h11.5M532.83,385.55h11.5M594.80,361.60V364.60M589.55,361.60h11.5M589.55,364.60h11.5M651.52,367.14V370.14M646.27,367.14h11.5M646.27,370.14h11.5M736.60,393.24V397.24M731.35,393.24h11.5M731.35,397.24h11.5M453.00,412.58V415.58M447.75,412.58h11.5M447.75,415.58h11.5M481.36,395.46V399.46M476.11,395.46h11.5M476.11,399.46h11.5M538.08,376.12V381.12M532.83,376.12h11.5M532.83,381.12h11.5M594.80,349.52V354.52M589.55,349.52h11.5M589.55,354.52h11.5M651.52,364.93V367.93M646.27,364.93h11.5M646.27,367.93h11.5M736.60,378.83V382.83M731.35,378.83h11.5M731.35,382.83h11.5M453.00,411.47V414.47M447.75,411.47h11.5M447.75,414.47h11.5M481.36,383.32V388.32M476.11,383.32h11.5M476.11,388.32h11.5M538.08,353.24V355.24M532.83,353.24h11.5M532.83,355.24h11.5M594.80,324.98V326.98M589.55,324.98h11.5M589.55,326.98h11.5M651.52,341.16V345.16M646.27,341.16h11.5M646.27,345.16h11.5M736.60,364.93V367.93M731.35,364.93h11.5M731.35,367.93h11.5M453.00,411.47V414.47M447.75,411.47h11.5M447.75,414.47h11.5M481.36,390.47V394.47M476.11,390.47h11.5M476.11,394.47h11.5M538.08,366.14V371.14M532.83,366.14h11.5M532.83,371.14h11.5M594.80,337.73V339.73M589.55,337.73h11.5M589.55,339.73h11.5M651.52,350.52V353.52M646.27,350.52h11.5M646.27,353.52h11.5M736.60,371.69V376.69M731.35,371.69h11.5M731.35,376.69h11.5" stroke="#000" stroke-width="1.15" fill="none"/>
<path d="M453.00,408.80L458.28,414.08L453.00,419.36L447.72,414.08Z" fill="#000"/>
<path d="M481.36,399.38L486.64,404.66L481.36,409.94L476.08,404.66Z" fill="#000"/>
<path d="M538.08,385.53L543.36,390.81L538.08,396.09L532.80,390.81Z" fill="#000"/>
<path d="M594.80,371.12L600.08,376.40L594.80,381.68L589.52,376.40Z" fill="#000"/>
<path d="M651.52,376.66L656.80,381.94L651.52,387.22L646.24,381.94Z" fill="#000"/>
<path d="M736.60,393.84L741.88,399.12L736.60,404.40L731.32,399.12Z" fill="#000"/>
<rect x="448.51" y="409.59" width="8.98" height="8.98" fill="#000"/>
<rect x="476.87" y="395.18" width="8.98" height="8.98" fill="#000"/>
<rect x="533.59" y="378.56" width="8.98" height="8.98" fill="#000"/>
<rect x="590.31" y="358.62" width="8.98" height="8.98" fill="#000"/>
<rect x="647.03" y="364.16" width="8.98" height="8.98" fill="#000"/>
<rect x="732.11" y="390.75" width="8.98" height="8.98" fill="#000"/>
<path d="M453.00,408.80L458.46,418.48L447.54,418.48Z" fill="#000"/>
<path d="M481.36,392.18L486.82,401.86L475.90,401.86Z" fill="#000"/>
<path d="M538.08,373.34L543.54,383.02L532.62,383.02Z" fill="#000"/>
<path d="M594.80,346.74L600.26,356.42L589.34,356.42Z" fill="#000"/>
<path d="M651.52,361.15L656.98,370.83L646.06,370.83Z" fill="#000"/>
<path d="M736.60,375.55L742.06,385.23L731.14,385.23Z" fill="#000"/>
<path d="M447.90,407.87L458.10,418.07M447.90,418.07L458.10,407.87" stroke="#000" stroke-width="1.35" fill="none"/>
<path d="M476.26,380.72L486.46,390.92M476.26,390.92L486.46,380.72" stroke="#000" stroke-width="1.35" fill="none"/>
<path d="M532.98,349.13L543.18,359.34M532.98,359.34L543.18,349.13" stroke="#000" stroke-width="1.35" fill="none"/>
<path d="M589.70,320.88L599.90,331.09M589.70,331.09L599.90,320.88" stroke="#000" stroke-width="1.35" fill="none"/>
<path d="M646.42,338.05L656.62,348.26M646.42,348.26L656.62,338.05" stroke="#000" stroke-width="1.35" fill="none"/>
<path d="M731.50,361.32L741.70,371.53M731.50,371.53L741.70,361.32" stroke="#000" stroke-width="1.35" fill="none"/>
<path d="M447.90,407.87L458.10,418.07M447.90,418.07L458.10,407.87M453.00,407.27L453.00,418.67" stroke="#000" stroke-width="1.35" fill="none"/>
<path d="M476.26,387.37L486.46,397.57M476.26,397.57L486.46,387.37M481.36,386.77L481.36,398.17" stroke="#000" stroke-width="1.35" fill="none"/>
<path d="M532.98,363.54L543.18,373.75M532.98,373.75L543.18,363.54M538.08,362.94L538.08,374.35" stroke="#000" stroke-width="1.35" fill="none"/>
<path d="M589.70,333.62L599.90,343.83M589.70,343.83L599.90,333.62M594.80,333.02L594.80,344.43" stroke="#000" stroke-width="1.35" fill="none"/>
<path d="M646.42,346.92L656.62,357.13M646.42,357.13L656.62,346.92M651.52,346.32L651.52,357.73" stroke="#000" stroke-width="1.35" fill="none"/>
<path d="M731.50,369.08L741.70,379.29M731.50,379.29L741.70,369.08M736.60,368.48L736.60,379.89" stroke="#000" stroke-width="1.35" fill="none"/></g>
</svg>
</body></html>
